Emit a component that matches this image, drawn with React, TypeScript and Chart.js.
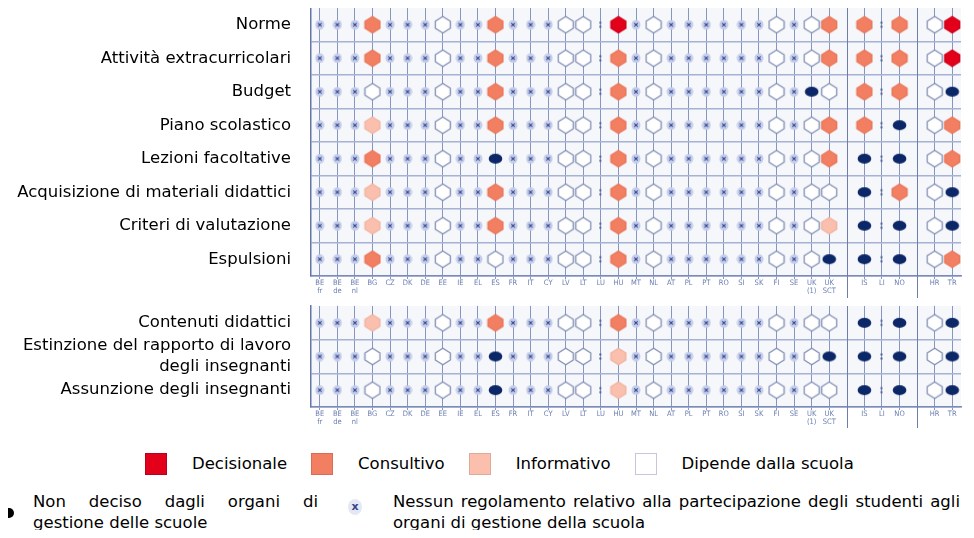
import React, { useEffect, useRef } from "react";
import { Chart, registerables } from "chart.js";

Chart.register(...registerables);

// Country columns; "" marks the gaps between country groups
const columnLabels: (string | string[])[] = [
  ["BE", "fr"], ["BE", "de"], ["BE", "nl"], "BG", "CZ", "DK", "DE", "EE", "IE", "EL", "ES", "FR", "IT", "CY",
  "LV", "LT", "LU", "HU", "MT", "NL", "AT", "PL", "PT", "RO", "SI", "SK", "FI", "SE", ["UK", "(1)"], ["UK", "SCT"],
  "", "IS", "LI", "NO", "", "HR", "TR",
];
const separatorColumns = [30, 34];

const topRowLabels: (string | string[])[] = [
  "Norme",
  "Attività extracurricolari",
  "Budget",
  "Piano scolastico",
  "Lezioni facoltative",
  "Acquisizione di materiali didattici",
  "Criteri di valutazione",
  "Espulsioni",
];
const bottomRowLabels: (string | string[])[] = [
  "Contenuti didattici",
  ["Estinzione del rapporto di lavoro", "degli insegnanti"],
  "Assunzione degli insegnanti",
];

// Codes: D decisionale, C consultivo, I informativo, S dipende dalla scuola,
// N non deciso dagli organi di gestione, x nessun regolamento, ":" dato non disponibile, "-" gap
const norme = ["x","x","x","C","x","x","x","S","x","x","C","x","x","x","S","S",":","D","x","S","x","x","x","x","x","x","S","x","S","C","-","C",":","C","-","S","D"];
const attivita = ["x","x","x","C","x","x","x","S","x","x","C","x","x","x","S","S",":","C","x","S","x","x","x","x","x","x","S","x","S","C","-","C",":","C","-","S","D"];
const budget = ["x","x","x","S","x","x","x","S","x","x","C","x","x","x","S","S",":","C","x","S","x","x","x","x","x","x","S","x","N","S","-","C",":","C","-","S","N"];
const piano = ["x","x","x","I","x","x","x","S","x","x","C","x","x","x","S","S",":","C","x","S","x","x","x","x","x","x","S","x","S","C","-","C",":","N","-","S","C"];
const lezioni = ["x","x","x","C","x","x","x","S","x","x","N","x","x","x","S","S",":","C","x","S","x","x","x","x","x","x","S","x","S","C","-","N",":","N","-","S","C"];
const acquisizione = ["x","x","x","I","x","x","x","S","x","x","C","x","x","x","S","S",":","C","x","S","x","x","x","x","x","x","S","x","S","S","-","N",":","C","-","S","N"];
const criteri = ["x","x","x","I","x","x","x","S","x","x","C","x","x","x","S","S",":","C","x","S","x","x","x","x","x","x","S","x","S","I","-","N",":","N","-","S","N"];
const espulsioni = ["x","x","x","C","x","x","x","S","x","x","S","x","x","x","S","S",":","C","x","S","x","x","x","x","x","x","S","x","S","N","-","N",":","N","-","S","C"];

const contenuti = ["x","x","x","I","x","x","x","S","x","x","C","x","x","x","S","S",":","C","x","S","x","x","x","x","x","x","S","x","S","S","-","N",":","N","-","S","N"];
const estinzione = ["x","x","x","S","x","x","x","S","x","x","N","x","x","x","S","S",":","I","x","S","x","x","x","x","x","x","S","x","S","N","-","N",":","N","-","S","N"];
const assunzione = ["x","x","x","S","x","x","x","S","x","x","N","x","x","x","S","S",":","I","x","S","x","x","x","x","x","x","S","x","S","S","-","N",":","N","-","S","N"];

const topRows = [norme, attivita, budget, piano, lezioni, acquisizione, criteri, espulsioni];
const bottomRows = [contenuti, estinzione, assunzione];

const symbolCodes = ["x", "S", "I", "C", "D", "N", ":"];

const legendSquares = [
  { label: "Decisionale", fill: "#e2001a", border: "#b9001c" },
  { label: "Consultivo", fill: "#f27f61", border: "#d86c55" },
  { label: "Informativo", fill: "#fac0ad", border: "#e2a999" },
  { label: "Dipende dalla scuola", fill: "#ffffff", border: "#c3c8df" },
];
const legendNonDeciso = ["Non deciso dagli organi di", "gestione delle scuole"];
const legendNessun = [
  "Nessun regolamento relativo alla partecipazione degli studenti agli",
  "organi di gestione della scuola",
];

function makeCanvas(w: number, h: number, draw: (g: CanvasRenderingContext2D) => void) {
  const c = document.createElement("canvas");
  c.width = w;
  c.height = h;
  const g = c.getContext("2d") as CanvasRenderingContext2D;
  draw(g);
  return c;
}

function hex(fill: string, stroke: string) {
  return makeCanvas(18, 19, (g) => {
    const cx = 9, cy = 9.5, rx = 7.5, ry = 8.3, k = 0.42;
    g.beginPath();
    g.moveTo(cx, cy - ry);
    g.lineTo(cx + rx, cy - ry * k);
    g.lineTo(cx + rx, cy + ry * k);
    g.lineTo(cx, cy + ry);
    g.lineTo(cx - rx, cy + ry * k);
    g.lineTo(cx - rx, cy - ry * k);
    g.closePath();
    g.fillStyle = fill;
    g.fill();
    g.lineJoin = "round";
    g.strokeStyle = stroke;
    g.lineWidth = 1.3;
    g.stroke();
  });
}

function makeStyles(): Record<string, HTMLCanvasElement> {
  return {
    D: hex("#e2001a", "#d0001a"),
    C: hex("#f27f61", "#e8765a"),
    I: hex("#fac0ad", "#f0b3a1"),
    S: hex("#ffffff", "#7f8db3"),
    N: makeCanvas(15, 12, (g) => {
      g.beginPath();
      g.ellipse(7.5, 6, 6.8, 5, 0, 0, Math.PI * 2);
      g.fillStyle = "#0c2767";
      g.fill();
    }),
    x: makeCanvas(10, 10, (g) => {
      g.fillStyle = "#c3cce9";
      g.beginPath();
      g.ellipse(5, 5, 4.5, 4.8, 0, 0, Math.PI * 2);
      g.fill();
      g.strokeStyle = "#34468f";
      g.lineWidth = 1.1;
      g.beginPath();
      g.moveTo(3.3, 3.3); g.lineTo(6.7, 6.7);
      g.moveTo(6.7, 3.3); g.lineTo(3.3, 6.7);
      g.stroke();
    }),
    ":": makeCanvas(5, 9, (g) => {
      g.fillStyle = "#4f5f92";
      g.fillRect(1, 1.5, 2, 2);
      g.fillRect(1, 5.5, 2, 2);
    }),
  };
}

function buildDatasets(rows: string[][], styles: Record<string, HTMLCanvasElement>) {
  return symbolCodes.map((code) => {
    const data: { x: number; y: number }[] = [];
    rows.forEach((row, r) =>
      row.forEach((v, c) => {
        if (v === code) data.push({ x: c, y: r });
      })
    );
    return {
      label: code,
      data,
      pointStyle: styles[code],
      pointRadius: 6,
      pointHoverRadius: 6,
      showLine: false,
    };
  });
}

const panelPlugin = {
  id: "panel",
  beforeDraw(chart: any) {
    const { ctx, chartArea: a } = chart;
    ctx.save();
    ctx.fillStyle = "#f6f7fb";
    ctx.fillRect(a.left, a.top, a.right - a.left, a.bottom - a.top);
    ctx.restore();
  },
  beforeDatasetsDraw(chart: any) {
    const { ctx, chartArea: a } = chart;
    const xs = chart.scales.x;
    ctx.save();
    ctx.strokeStyle = "#6d7eab";
    ctx.lineWidth = 1;
    separatorColumns.forEach((s) => {
      const px = Math.round(xs.getPixelForValue(s)) + 0.5;
      ctx.beginPath();
      ctx.moveTo(px, a.top);
      ctx.lineTo(px, chart.height - 2);
      ctx.stroke();
    });
    ctx.restore();
  },
};

function makeConfig(
  rowLabels: (string | string[])[],
  rows: string[][],
  styles: Record<string, HTMLCanvasElement>,
  padTop: number,
  xHeight: number
): any {
  return {
    type: "scatter",
    data: { datasets: buildDatasets(rows, styles) },
    options: {
      animation: false,
      responsive: false,
      events: [],
      layout: { padding: { top: padTop, right: 13, left: 0, bottom: 0 } },
      plugins: { legend: { display: false }, tooltip: { enabled: false } },
      scales: {
        x: {
          type: "linear",
          min: -0.5,
          max: columnLabels.length - 0.5,
          afterBuildTicks: (s: any) => {
            s.ticks = columnLabels.map((_, i) => ({ value: i }));
          },
          afterFit: (s: any) => {
            s.height = xHeight;
            s.paddingLeft = 0;
            s.paddingRight = 0;
          },
          ticks: {
            autoSkip: false,
            maxRotation: 0,
            minRotation: 0,
            padding: 0,
            color: "#6a7db2",
            font: { family: '"DejaVu Sans Condensed", "DejaVu Sans", sans-serif', size: 7.5, lineHeight: 1.1 },
            callback: (_v: any, i: number) => columnLabels[i],
          },
          grid: {
            offset: false,
            color: (ctx: any) =>
              separatorColumns.includes(ctx.index) || ctx.index === undefined ? "transparent" : "#8696c0",
            lineWidth: 1,
            tickLength: 3,
          },
          border: { color: "#7a8aba", width: 1.5 },
        },
        y: {
          type: "linear",
          reverse: true,
          min: -0.5,
          max: rowLabels.length - 0.5,
          afterBuildTicks: (s: any) => {
            s.ticks = rowLabels.map((_, i) => ({ value: i }));
          },
          afterFit: (s: any) => {
            s.width = 311;
            s.paddingTop = 0;
            s.paddingBottom = 0;
          },
          ticks: {
            autoSkip: false,
            padding: 20,
            color: "#000000",
            font: { family: '"DejaVu Sans", sans-serif', size: 16.5, lineHeight: 1.25 },
            callback: (_v: any, i: number) => rowLabels[i],
          },
          grid: {
            offset: true,
            drawTicks: false,
            color: (ctx: any) => (ctx.index === 0 ? "transparent" : "#a6b2d4"),
            lineWidth: 1.5,
          },
          border: { color: "#6577a8", width: 1.5 },
        },
      },
    },
    plugins: [panelPlugin],
  };
}

export default function App() {
  const topRef = useRef<HTMLCanvasElement>(null);
  const botRef = useRef<HTMLCanvasElement>(null);

  useEffect(() => {
    const styles = makeStyles();
    const c1 = new Chart(topRef.current as HTMLCanvasElement, makeConfig(topRowLabels, topRows, styles, 8, 24));
    const c2 = new Chart(botRef.current as HTMLCanvasElement, makeConfig(bottomRowLabels, bottomRows, styles, 10, 23));
    return () => {
      c1.destroy();
      c2.destroy();
    };
  }, []);

  const textFont = '"DejaVu Sans", sans-serif';

  return (
    <div
      style={{
        position: "relative",
        width: 974,
        height: 538,
        margin: -8,
        overflow: "hidden",
        background: "#ffffff",
        fontFamily: textFont,
        color: "#000",
      }}
    >
      <canvas ref={topRef} width={974} height={300} style={{ position: "absolute", left: 0, top: 0 }} />
      <canvas ref={botRef} width={974} height={134} style={{ position: "absolute", left: 0, top: 296 }} />

      <div
        style={{
          position: "absolute",
          left: 145,
          top: 453,
          display: "flex",
          alignItems: "center",
          fontSize: 16.5,
          lineHeight: "22px",
          whiteSpace: "nowrap",
        }}
      >
        {legendSquares.map((item) => (
          <React.Fragment key={item.label}>
            <span
              style={{
                display: "inline-block",
                width: 22,
                height: 22,
                boxSizing: "border-box",
                background: item.fill,
                border: `1px solid ${item.border}`,
                marginRight: 25,
              }}
            />
            <span style={{ marginRight: 24 }}>{item.label}</span>
          </React.Fragment>
        ))}
      </div>

      <svg
        width={16}
        height={14}
        style={{ position: "absolute", left: 0, top: 506, display: "block" }}
      >
        <circle cx={9} cy={7} r={5} fill="#000000" />
      </svg>
      <div style={{ position: "absolute", left: 33, top: 491, width: 285, fontSize: 16.5, lineHeight: "21px" }}>
        <div style={{ textAlign: "justify", textAlignLast: "justify" }}>{legendNonDeciso[0]}</div>
        <div>{legendNonDeciso[1]}</div>
      </div>

      <div
        style={{
          position: "absolute",
          left: 348,
          top: 499,
          width: 14,
          height: 16,
          borderRadius: "50%",
          background: "#e4e8f4",
          color: "#34468a",
          fontSize: 11,
          fontWeight: "bold",
          lineHeight: "15px",
          textAlign: "center",
        }}
      >
        x
      </div>
      <div style={{ position: "absolute", left: 393, top: 491, width: 567, fontSize: 16.5, lineHeight: "21px" }}>
        <div style={{ textAlign: "justify", textAlignLast: "justify" }}>{legendNessun[0]}</div>
        <div>{legendNessun[1]}</div>
      </div>
    </div>
  );
}
